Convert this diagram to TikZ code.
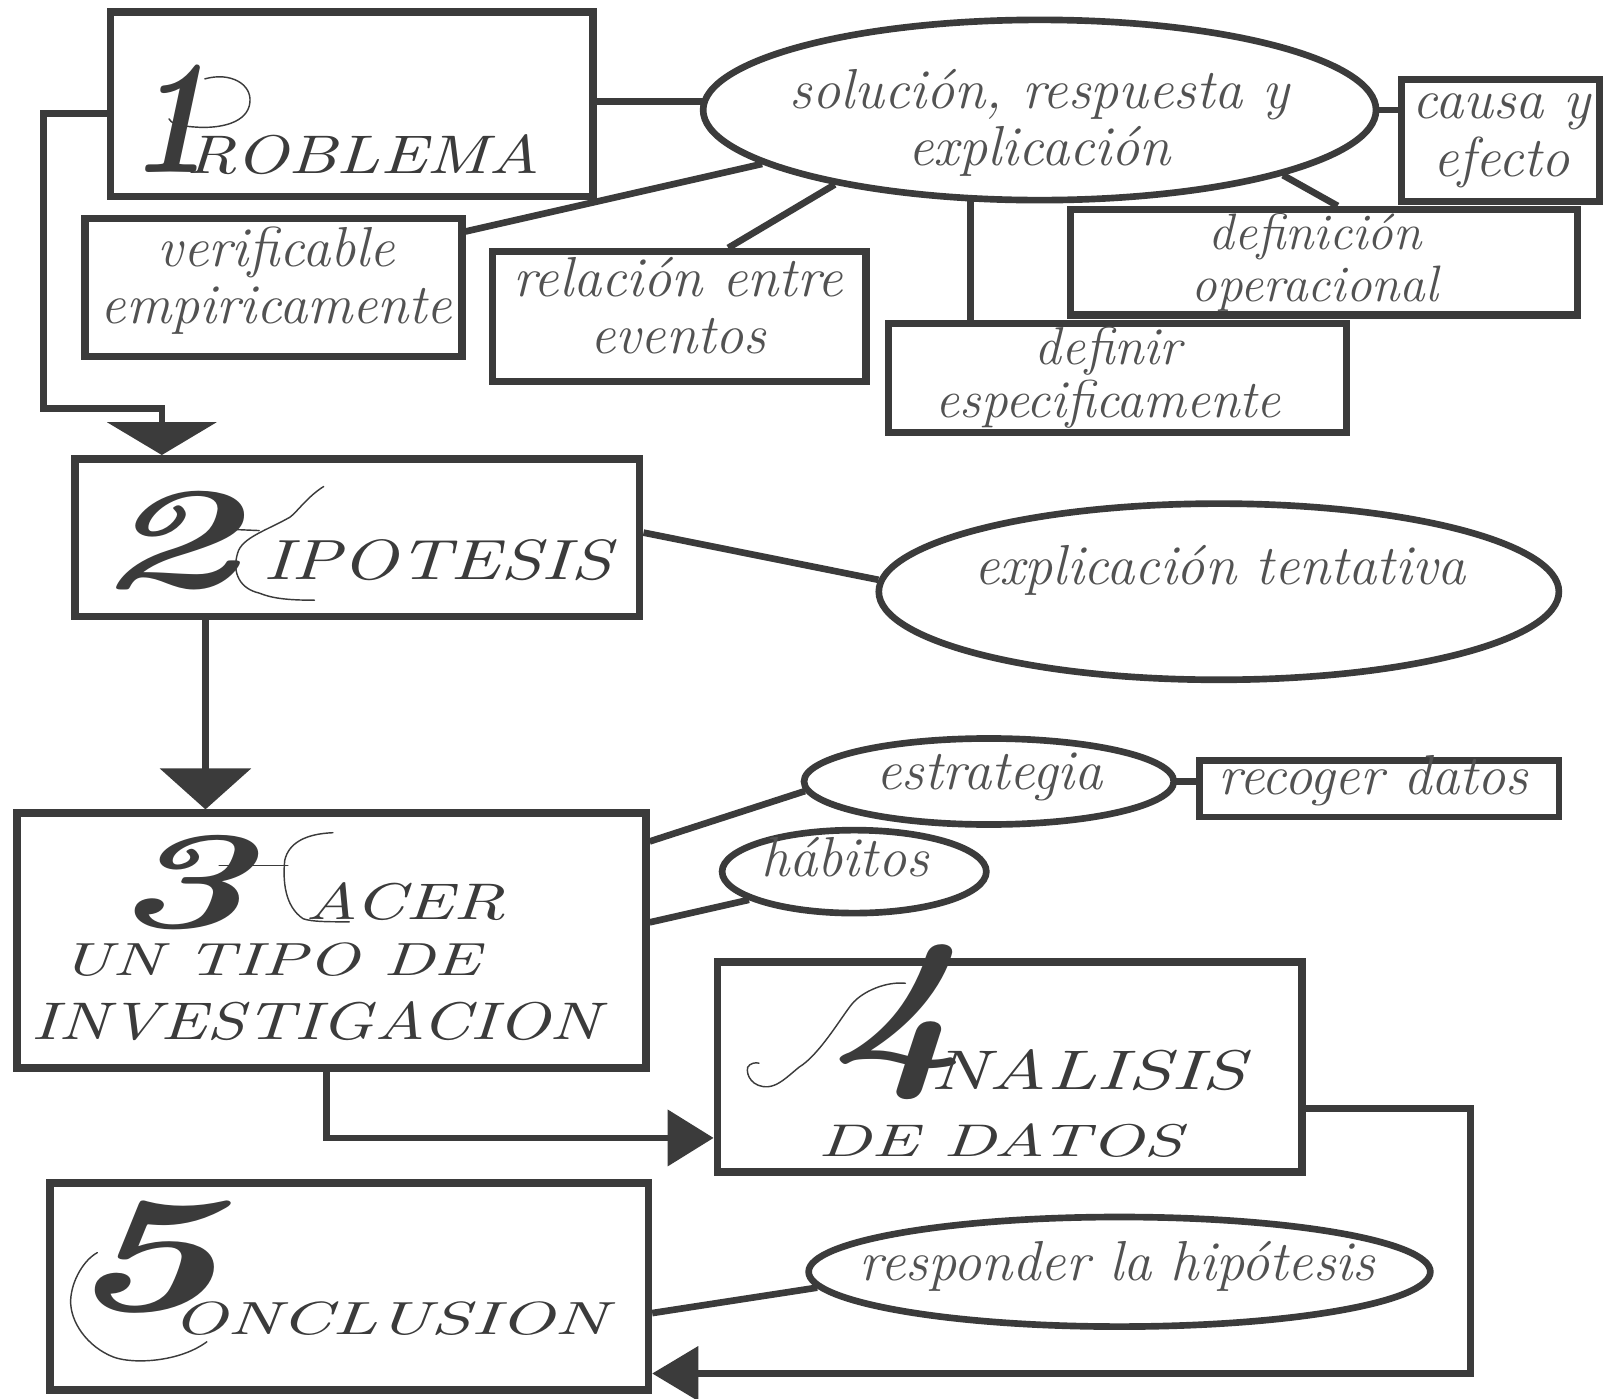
\documentclass[tikz,border=0pt]{standalone}
\usepackage{fontspec}
\usepackage{graphicx}
\usetikzlibrary{shapes.geometric,arrows.meta}
\pgfdeclarelayer{bg}
\pgfsetlayers{bg,main}
\definecolor{ink}{HTML}{3B3B3B}
\definecolor{txt}{HTML}{525252}
\newcommand{\fitw}[3]{\resizebox{#1pt}{#2pt}{#3}}
\begin{document}
\begin{tikzpicture}[x=1pt,y=-1pt,
 box/.style={draw=ink,fill=white,line width=7.5pt,rectangle,inner sep=0pt},
 oval/.style={draw=ink,fill=white,line width=6.5pt,ellipse,inner sep=0pt},
 conn/.style={draw=ink,line width=6.5pt},
 lbl/.style={text=txt,font=\fontsize{55}{56}\selectfont\itshape,align=center,inner sep=0pt,anchor=base},
 head/.style={text=ink,inner sep=0pt,anchor=base west},
 digit/.style={text=ink,inner sep=0pt,anchor=south west},
 deco/.style={draw=ink,line width=1.4pt,line cap=round},
 tipA/.style={-{Triangle[width=106pt,length=32pt]}},
 tipB/.style={-{Triangle[width=88pt,length=40pt]}},
 tipC/.style={-{Triangle[width=54pt,length=45pt]}},
 tipD/.style={-{Triangle[width=52pt,length=45pt]}}
]
\useasboundingbox (0,0) rectangle (1568,1365);

% main boxes
\node[box,minimum width=471pt,minimum height=180pt] (prob) at (343.5,101.7) {};
\node[box,minimum width=551pt,minimum height=154pt] (hip) at (349,525) {};
\node[box,minimum width=614pt,minimum height=249pt] (hacer) at (323.6,918.5) {};
\node[box,minimum width=571pt,minimum height=205pt] (anal) at (986,1041.5) {};
\node[box,minimum width=584pt,minimum height=202pt] (concl) at (341,1256) {};

% satellite shapes
\node[oval,minimum width=657pt,minimum height=176pt] (ell1) at (1015,107.4) {};
\node[box,line width=7pt,minimum width=193pt,minimum height=119pt] (causa) at (1465,137.5) {};
\node[box,line width=7pt,minimum width=368pt,minimum height=135pt] (verif) at (267,280.5) {};
\node[box,line width=7pt,minimum width=365pt,minimum height=127pt] (relac) at (663,309) {};
\node[box,line width=7pt,minimum width=495pt,minimum height=103pt] (defop) at (1293,256) {};
\node[box,line width=7pt,minimum width=447pt,minimum height=107pt] (defn) at (1091,369) {};
\node[oval,minimum width=664pt,minimum height=172pt] (ell2) at (1190,577.7) {};
\node[oval,minimum width=361pt,minimum height=84pt] (estr) at (965.5,763) {};
\node[box,line width=6.5pt,minimum width=351pt,minimum height=55pt] (recog) at (1346.5,770) {};
\node[oval,minimum width=258pt,minimum height=81pt] (habit) at (834,851) {};
\node[oval,minimum width=607pt,minimum height=107pt] (resp) at (1093,1241.7) {};

% connector bends
\coordinate (a1) at (42.5,398.7);
\coordinate (a2) at (158,398.7);
\coordinate (b1) at (200.6,0);
\coordinate (c1) at (318.8,1111);
\coordinate (d1) at (1435.4,1082);
\coordinate (d2) at (1435.4,1341);

\begin{pgfonlayer}{bg}
\fill[white] (0,0) rectangle (1568,1365);
\draw[conn] ([yshift=2.4pt]prob.east) -- ([yshift=2.4pt]prob.east -| ell1.center);
\draw[conn] (ell1.center) -- (ell1.center -| causa.center);
\draw[conn] ([yshift=-16.5pt]verif.north east) -- (ell1.191);
\draw[conn] ([xshift=48pt]relac.north) -- (ell1.200);
\draw[conn] ([xshift=-143.2pt]defn.north) -- ([xshift=-143.2pt]defn.north |- ell1.center);
\draw[conn] ([xshift=13pt]defop.north) -- (ell1.345);
\draw[conn] ([yshift=5pt]hip.east) -- (ell2.178);
\draw[conn] ([yshift=97pt]hacer.east) -- (estr.183);
\draw[conn] (estr.center) -- (estr.center -| recog.center);
\draw[conn] ([yshift=18pt]hacer.east) -- (habit.195);
\draw[conn] ([yshift=-26pt]concl.east) -- (resp.183);
\draw[conn,tipA] ([yshift=-9pt]prob.west) -| (a1) -- (a2) -- (a2 |- hip.north);
\draw[conn,tipB] (hip.south -| b1) -- (hacer.north -| b1);
\draw[conn,tipC] (hacer.south -| c1) |- (anal.west |- c1);
\draw[conn,tipD] (anal.east |- d1) -- (d1) -- (d2) -- (concl.east |- d2);
\end{pgfonlayer}

% labels (anchor = baseline of the last line)
\node[lbl] (ell1t) at (1015,162) {solución, respuesta y\\explicación};
\node[lbl] (causat) at (1466,172) {causa y\\efecto};
\node[lbl] (veriftx) at (270,316) {verificable\\empiricamente};
\node[lbl] (relact) at (662,345) {relación entre\\eventos};
\node[lbl,font=\fontsize{50}{50}\selectfont\itshape] (defopt) at (1284,294) {definición\\operacional};
\node[lbl,font=\fontsize{52}{52}\selectfont\itshape] (defnt) at (1082,408) {definir\\especificamente};
\node[lbl] (ell2t) at (1191,571) {explicación tentativa};
\node[lbl] (estrt) at (966,771) {estrategia};
\node[lbl] (recogt) at (1341,776) {recoger datos};
\node[lbl] (habitt) at (825,856) {hábitos};
\node[lbl] (respt) at (1091,1250) {responder la hipótesis};

% headings
\node[digit] (n1) at (125,169) {\fitw{80}{105}{\bfseries\itshape 1}};
\node[head] (t1) at (182,169) {\fitw{345}{38}{\itshape ROBLEMA}};
\draw[deco] (200,77) .. controls (225,70) and (246,82) .. (244,100) .. controls (242,120) and (215,126) .. (190,124) .. controls (175,123) and (166,120) .. (165,116);

\node[digit] (n2) at (92,576) {\fitw{140}{94}{\bfseries\itshape 2}};
\node[head] (t2) at (257,566) {\fitw{340}{39}{\itshape IPOTESIS}};
\draw[deco] (316,475) .. controls (300,485) and (290,500) .. (283,505) .. controls (260,518) and (236,525) .. (232,540) .. controls (226,560) and (235,575) .. (253,579) .. controls (265,584) and (280,586) .. (307,586);
\draw[deco] (206,516) -- (253,518);

\node[digit] (n3) at (107,908) {\fitw{137}{90}{\bfseries\itshape 3}};
\node[head] (t3) at (298,898) {\fitw{195}{36}{\itshape ACER}};
\node[head] (t3b) at (60,952) {\fitw{409}{32}{\itshape UN TIPO DE}};
\node[head] (t3c) at (31,1015) {\fitw{555}{37}{\itshape INVESTIGACION}};
\draw[deco] (325,813) .. controls (300,814) and (282,822) .. (278,840) .. controls (276,860) and (278,885) .. (296,897) .. controls (305,900) and (320,900) .. (341,900);
\draw[deco] (214,845) -- (281,845);

\node[digit] (n4) at (808,1074) {\fitw{136}{117}{\bfseries\itshape 4}};
\node[head] (t4) at (908,1064) {\fitw{308}{39}{\itshape NALISIS}};
\node[head] (t4b) at (799,1129) {\fitw{355}{32}{\itshape DE DATOS}};
\draw[deco] (884,960) .. controls (865,958) and (842,968) .. (832,980) .. controls (822,992) and (800,1030) .. (780,1042) .. controls (768,1052) and (760,1060) .. (750,1061) .. controls (735,1062) and (728,1050) .. (730,1042) .. controls (732,1038) and (738,1037) .. (741,1038);

\node[digit] (n5) at (62,1282) {\fitw{154}{107}{\bfseries\itshape 5}};
\node[head] (t5) at (168,1303) {\fitw{425}{32}{\itshape ONCLUSION}};
\draw[deco] (95,1223) .. controls (82,1230) and (70,1250) .. (69,1269) .. controls (68,1290) and (85,1315) .. (111,1325) .. controls (130,1332) and (175,1330) .. (202,1310);
\end{tikzpicture}
\end{document}
